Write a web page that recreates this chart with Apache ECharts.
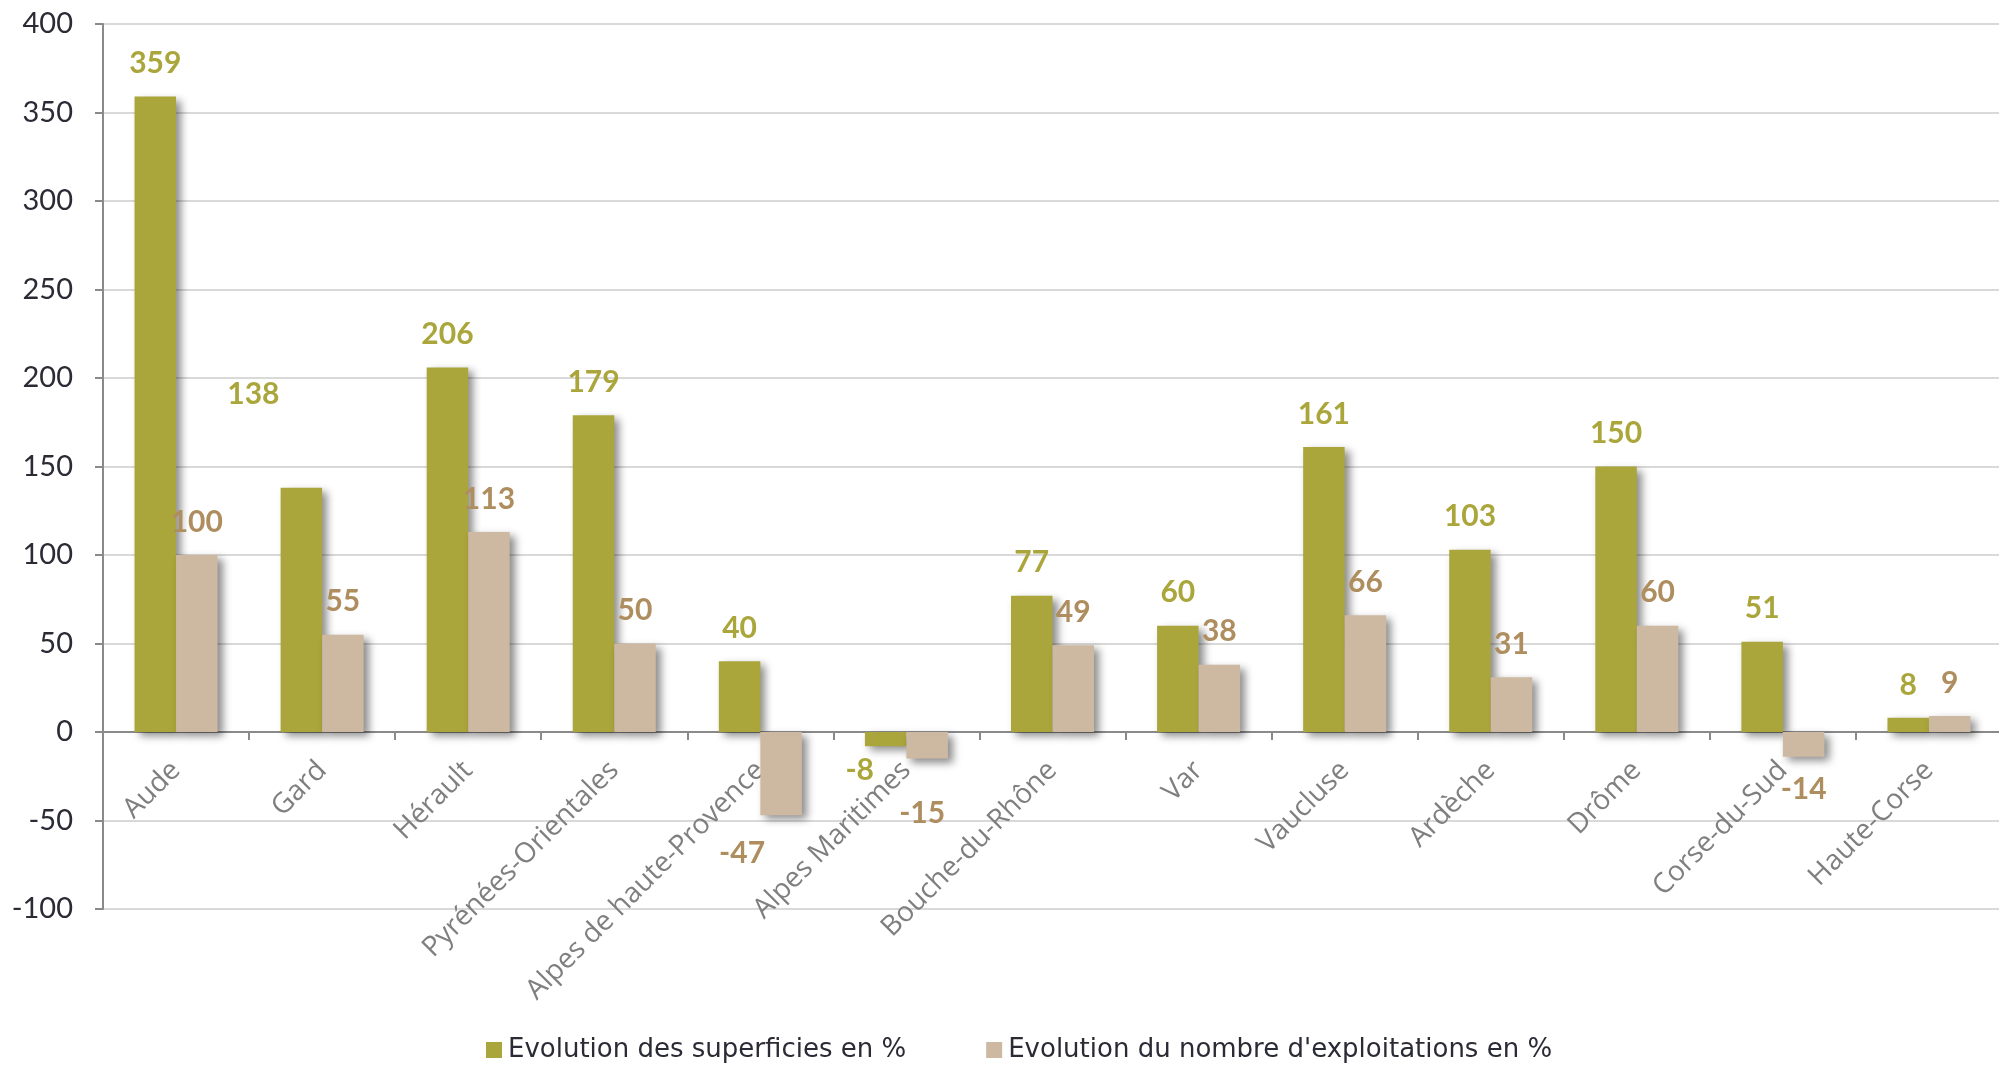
<!DOCTYPE html>
<html><head><meta charset="utf-8">
<script src="https://cdn.jsdelivr.net/npm/echarts@6/dist/echarts.min.js"></script>
<style>html,body{margin:0;padding:0;background:#fff}#c{width:1999px;height:1067px}</style>
</head><body><div id="c"></div>
<script>
const categories = ["Aude","Gard","Hérault","Pyrénées-Orientales","Alpes de haute-Provence","Alpes Maritimes","Bouche-du-Rhône","Var","Vaucluse","Ardèche","Drôme","Corse-du-Sud","Haute-Corse"];
const superficies = [359,138,206,179,40,-8,77,60,161,103,150,51,8];
const exploitations = [100,55,113,50,-47,-15,49,38,66,31,60,-14,9];
const seriesNames = ["Evolution des superficies en %","Evolution du nombre d'exploitations en %"];
const yTicks = {min:-100,max:400,interval:50};

// manual label nudges (style only), keyed by category index
const nudgeSup = {1:[-48,-60],5:[-26,-9]};
const nudgeExp = {4:[-39,5],5:[-5,22]};

const GREEN='#aaa63b', BEIGE='#cdb9a2', GREEN_TXT='#aaa63b', BEIGE_TXT='#ae8d5f';
const FONT='Lato, "Open Sans", sans-serif';
const GRID={left:103,top:24,width:1899,height:885};
// distance from grid bottom to the zero line, so the category axis sits on 0
const zeroOffset = -GRID.height*(0-yTicks.min)/(yTicks.max-yTicks.min);

function items(vals,nudge){
  return vals.map((v,i)=>({value:v,label:{position:v<0?'bottom':'top',offset:nudge[i]||[0,0]}}));
}
const shadow={shadowColor:'rgba(0,0,0,0.45)',shadowBlur:8,shadowOffsetX:5,shadowOffsetY:4};

const chart=echarts.init(document.getElementById('c'),null,{renderer:'canvas'});
chart.setOption({
  animation:false,
  grid:Object.assign({containLabel:false,outerBoundsMode:'none'},GRID),
  legend:{left:481,top:1032,itemWidth:16,itemHeight:16,itemGap:80,icon:'rect',
    textStyle:{fontFamily:'"DejaVu Sans", sans-serif',fontSize:26,color:'#2b2b35',lineHeight:26,padding:[0,0,0,1]},
    data:seriesNames},
  xAxis:{type:'category',data:categories,position:'bottom',offset:zeroOffset,
    axisLine:{onZero:false,lineStyle:{color:'#8a8a8a',width:2}},
    axisTick:{show:true,length:8,lineStyle:{color:'#8a8a8a',width:2}},
    axisLabel:{rotate:45,interval:0,margin:34,color:'#7f7f7f',fontSize:28,fontFamily:'"Open Sans", sans-serif'}},
  yAxis:{type:'value',min:yTicks.min,max:yTicks.max,interval:yTicks.interval,
    axisLine:{show:true,lineStyle:{color:'#8a8a8a',width:2}},
    axisTick:{show:true,length:8,lineStyle:{color:'#8a8a8a',width:2}},
    axisLabel:{margin:30,color:'#2b2b35',fontSize:29,fontFamily:FONT},
    splitLine:{lineStyle:{color:'#d9d9d9',width:2}}},
  series:[
    {name:seriesNames[0],type:'bar',barWidth:41.5,barGap:'0%',data:items(superficies,nudgeSup),
     itemStyle:Object.assign({color:GREEN},shadow),
     label:{show:true,distance:18,color:GREEN_TXT,fontSize:30,fontWeight:'bold',fontFamily:FONT}},
    {name:seriesNames[1],type:'bar',barWidth:41.5,barGap:'0%',data:items(exploitations,nudgeExp),
     itemStyle:Object.assign({color:BEIGE},shadow),
     label:{show:true,distance:18,color:BEIGE_TXT,fontSize:30,fontWeight:'bold',fontFamily:FONT}}
  ]
});
</script></body></html>
